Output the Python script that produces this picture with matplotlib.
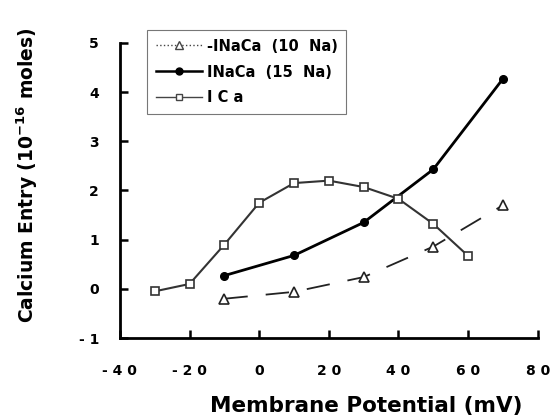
import numpy as np
import matplotlib
matplotlib.use("Agg")
import matplotlib.pyplot as plt

plt.rcParams['font.family'] = ['DejaVu Sans']

# data
v_ica = [-30, -20, -10, 0, 10, 20, 30, 40, 50, 60]
ica = [-0.05, 0.1, 0.9, 1.75, 2.15, 2.2, 2.07, 1.83, 1.32, 0.67]

v_naca = [-10, 10, 30, 50, 70]
naca15 = [0.27, 0.68, 1.35, 2.43, 4.27]
naca10 = [-0.2, -0.06, 0.24, 0.86, 1.7]

xticks = [-40, -20, 0, 20, 40, 60, 80]
xticklabels = ['- 4 0', '- 2 0', '0', '2 0', '4 0', '6 0', '8 0']
yticks = [-1, 0, 1, 2, 3, 4, 5]
yticklabels = ['- 1', '0', '1', '2', '3', '4', '5']

fig = plt.figure(figsize=(5.55, 4.2), dpi=100)
ax = fig.add_axes([0.216, 0.195, 0.753, 0.703])

ax.plot(v_naca, naca10, color='#222222', lw=1.3, dashes=(13, 10))
ax.plot(v_naca, naca10, ls='none', marker='^', ms=6.5, mfc='white', mec='#222222', mew=1.2)

ax.plot(v_naca, naca15, color='black', lw=2)
ax.plot(v_naca, naca15, ls='none', marker='o', ms=5.5, color='black')

ax.plot(v_ica, ica, color='#333333', lw=1.5)
ax.plot(v_ica, ica, ls='none', marker='s', ms=5.5, mfc='white', mec='#333333', mew=1.2)

# legend handles
h1, = ax.plot([], [], color='#444444', lw=1, ls=':', marker='^', ms=5.5, mfc='white', mec='#444444')
h2, = ax.plot([], [], color='black', lw=1.8, marker='o', ms=5)
h3, = ax.plot([], [], color='#444444', lw=1, marker='s', ms=5, mfc='white', mec='#444444')
leg = ax.legend([h1, h2, h3], ['-INaCa  (10  Na)', 'INaCa  (15  Na)', 'I C a'],
                loc='upper left', bbox_to_anchor=(0.065, 1.044), borderaxespad=0,
                frameon=True, fancybox=False,
                handlelength=3.2, handletextpad=0.3, borderpad=0.6, labelspacing=0.75,
                prop={'weight': 'bold', 'size': 10.5})
leg.get_frame().set_edgecolor('#555555')
leg.get_frame().set_linewidth(0.8)

ax.set_xlim(-40, 80)
ax.set_ylim(-1, 5)
ax.set_xticks(xticks)
ax.set_xticklabels(xticklabels)
ax.set_yticks(yticks)
ax.set_yticklabels(yticklabels)
ax.tick_params(direction='in', length=6, width=1.8, labelsize=10)
ax.tick_params(axis='x', pad=19)
ax.tick_params(axis='y', pad=15)
for lab in ax.get_xticklabels() + ax.get_yticklabels():
    lab.set_fontweight('bold')
for s in ['top', 'right']:
    ax.spines[s].set_visible(False)
for s in ['left', 'bottom']:
    ax.spines[s].set_linewidth(2)

ax.set_xlabel('Membrane Potential (mV)', fontsize=15.5, fontweight='bold')
ax.xaxis.set_label_coords(0.59, -0.195)
ax.set_ylabel('Calcium Entry (10$^{\\mathbf{-16}}$ moles)', fontsize=13.5, fontweight='bold')
ax.yaxis.set_label_coords(-0.19, 0.553)

fig.savefig('out.png', dpi=100)
